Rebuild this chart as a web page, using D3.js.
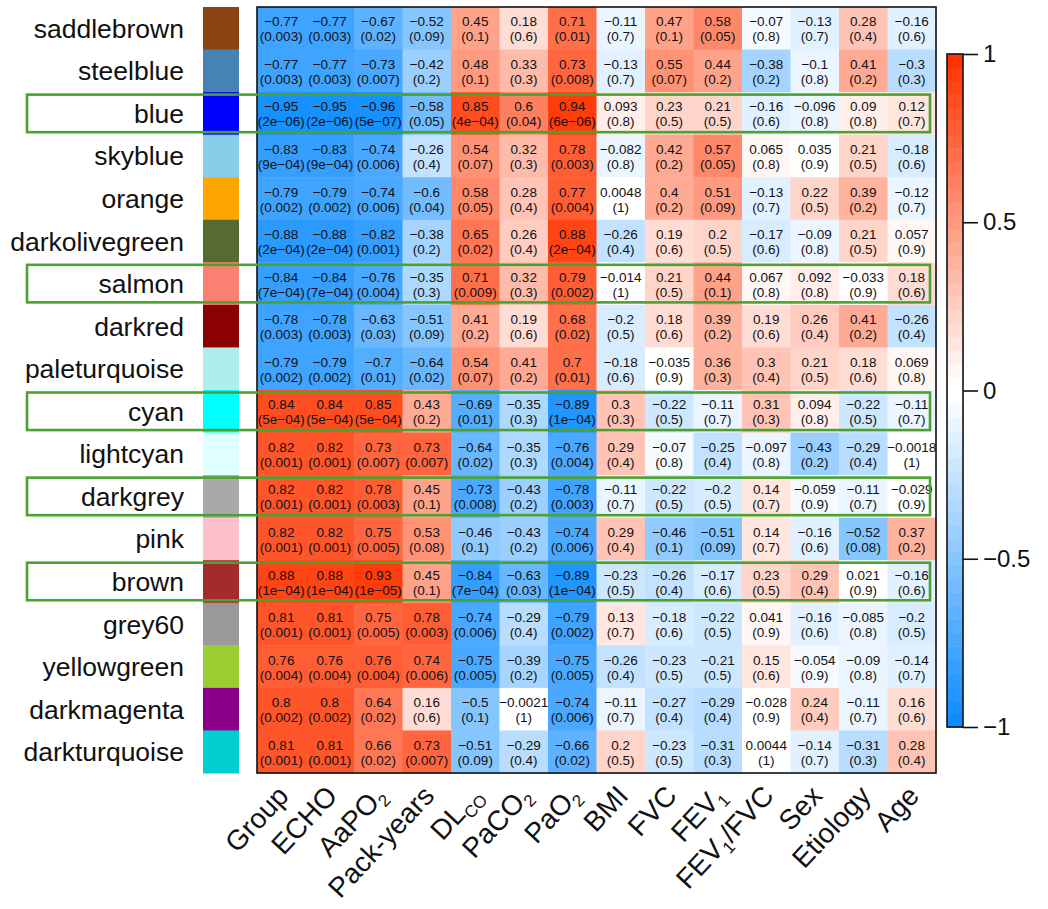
<!DOCTYPE html>
<html>
<head>
<meta charset="utf-8">
<script src="https://cdn.jsdelivr.net/npm/d3@7"></script>
<style>
  body { margin: 0; background: #fff; }
  text { font-family: "Liberation Sans", Arial, sans-serif; fill: #111; }
</style>
</head>
<body>
<div id="chart"></div>
<script>
// module / trait correlation heatmap

var modules = ["saddlebrown", "steelblue", "blue", "skyblue", "orange", "darkolivegreen",
  "salmon", "darkred", "paleturquoise", "cyan", "lightcyan", "darkgrey", "pink", "brown",
  "grey60", "yellowgreen", "darkmagenta", "darkturquoise"];

var swatchColors = ["#8B4513", "#4682B4", "#0000FF", "#87CEEB", "#FFA500", "#556B2F",
  "#FA8072", "#8B0000", "#AFEEEE", "#00FFFF", "#E0FFFF", "#A9A9A9", "#FFC0CB", "#A52A2A",
  "#999999", "#9ACD32", "#8B008B", "#00CED1"];

// label parts: [normal, subscript, normal, ...]
var traits = ["Group", "ECHO", "AaPO2", "Pack-years", "DLCO", "PaCO2", "PaO2", "BMI",
  "FVC", "FEV1", "FEV1/FVC", "Sex", "Etiology", "Age"];
var traitLabels = [["Group"], ["ECHO"], ["AaPO", "2"], ["Pack-years"], ["DL", "CO"],
  ["PaCO", "2"], ["PaO", "2"], ["BMI"], ["FVC"], ["FEV", "1"], ["FEV", "1", "/FVC"],
  ["Sex"], ["Etiology"], ["Age"]];

var highlighted = ["blue", "salmon", "cyan", "darkgrey", "brown"];

var corr = [
  [-0.77, -0.77, -0.67, -0.52, 0.45, 0.18, 0.71, -0.11, 0.47, 0.58, -0.07, -0.13, 0.28, -0.16],
  [-0.77, -0.77, -0.73, -0.42, 0.48, 0.33, 0.73, -0.13, 0.55, 0.44, -0.38, -0.1, 0.41, -0.3],
  [-0.95, -0.95, -0.96, -0.58, 0.85, 0.6, 0.94, 0.093, 0.23, 0.21, -0.16, -0.096, 0.09, 0.12],
  [-0.83, -0.83, -0.74, -0.26, 0.54, 0.32, 0.78, -0.082, 0.42, 0.57, 0.065, 0.035, 0.21, -0.18],
  [-0.79, -0.79, -0.74, -0.6, 0.58, 0.28, 0.77, 0.0048, 0.4, 0.51, -0.13, 0.22, 0.39, -0.12],
  [-0.88, -0.88, -0.82, -0.38, 0.65, 0.26, 0.88, -0.26, 0.19, 0.2, -0.17, -0.09, 0.21, 0.057],
  [-0.84, -0.84, -0.76, -0.35, 0.71, 0.32, 0.79, -0.014, 0.21, 0.44, 0.067, 0.092, -0.033, 0.18],
  [-0.78, -0.78, -0.63, -0.51, 0.41, 0.19, 0.68, -0.2, 0.18, 0.39, 0.19, 0.26, 0.41, -0.26],
  [-0.79, -0.79, -0.7, -0.64, 0.54, 0.41, 0.7, -0.18, -0.035, 0.36, 0.3, 0.21, 0.18, 0.069],
  [0.84, 0.84, 0.85, 0.43, -0.69, -0.35, -0.89, 0.3, -0.22, -0.11, 0.31, 0.094, -0.22, -0.11],
  [0.82, 0.82, 0.73, 0.73, -0.64, -0.35, -0.76, 0.29, -0.07, -0.25, -0.097, -0.43, -0.29, -0.0018],
  [0.82, 0.82, 0.78, 0.45, -0.73, -0.43, -0.78, -0.11, -0.22, -0.2, 0.14, -0.059, -0.11, -0.029],
  [0.82, 0.82, 0.75, 0.53, -0.46, -0.43, -0.74, 0.29, -0.46, -0.51, 0.14, -0.16, -0.52, 0.37],
  [0.88, 0.88, 0.93, 0.45, -0.84, -0.63, -0.89, -0.23, -0.26, -0.17, 0.23, 0.29, 0.021, -0.16],
  [0.81, 0.81, 0.75, 0.78, -0.74, -0.29, -0.79, 0.13, -0.18, -0.22, 0.041, -0.16, -0.085, -0.2],
  [0.76, 0.76, 0.76, 0.74, -0.75, -0.39, -0.75, -0.26, -0.23, -0.21, 0.15, -0.054, -0.09, -0.14],
  [0.8, 0.8, 0.64, 0.16, -0.5, -0.0021, -0.74, -0.11, -0.27, -0.29, -0.028, 0.24, -0.11, 0.16],
  [0.81, 0.81, 0.66, 0.73, -0.51, -0.29, -0.66, 0.2, -0.23, -0.31, 0.0044, -0.14, -0.31, 0.28]
];

var pvals = [
  ["0.003", "0.003", "0.02", "0.09", "0.1", "0.6", "0.01", "0.7", "0.1", "0.05", "0.8", "0.7", "0.4", "0.6"],
  ["0.003", "0.003", "0.007", "0.2", "0.1", "0.3", "0.008", "0.7", "0.07", "0.2", "0.2", "0.8", "0.2", "0.3"],
  ["2e-06", "2e-06", "5e-07", "0.05", "4e-04", "0.04", "6e-06", "0.8", "0.5", "0.5", "0.6", "0.8", "0.8", "0.7"],
  ["9e-04", "9e-04", "0.006", "0.4", "0.07", "0.3", "0.003", "0.8", "0.2", "0.05", "0.8", "0.9", "0.5", "0.6"],
  ["0.002", "0.002", "0.006", "0.04", "0.05", "0.4", "0.004", "1", "0.2", "0.09", "0.7", "0.5", "0.2", "0.7"],
  ["2e-04", "2e-04", "0.001", "0.2", "0.02", "0.4", "2e-04", "0.4", "0.6", "0.5", "0.6", "0.8", "0.5", "0.9"],
  ["7e-04", "7e-04", "0.004", "0.3", "0.009", "0.3", "0.002", "1", "0.5", "0.1", "0.8", "0.8", "0.9", "0.6"],
  ["0.003", "0.003", "0.03", "0.09", "0.2", "0.6", "0.02", "0.5", "0.6", "0.2", "0.6", "0.4", "0.2", "0.4"],
  ["0.002", "0.002", "0.01", "0.02", "0.07", "0.2", "0.01", "0.6", "0.9", "0.3", "0.4", "0.5", "0.6", "0.8"],
  ["5e-04", "5e-04", "5e-04", "0.2", "0.01", "0.3", "1e-04", "0.3", "0.5", "0.7", "0.3", "0.8", "0.5", "0.7"],
  ["0.001", "0.001", "0.007", "0.007", "0.02", "0.3", "0.004", "0.4", "0.8", "0.4", "0.8", "0.2", "0.4", "1"],
  ["0.001", "0.001", "0.003", "0.1", "0.008", "0.2", "0.003", "0.7", "0.5", "0.5", "0.7", "0.9", "0.7", "0.9"],
  ["0.001", "0.001", "0.005", "0.08", "0.1", "0.2", "0.006", "0.4", "0.1", "0.09", "0.7", "0.6", "0.08", "0.2"],
  ["1e-04", "1e-04", "1e-05", "0.1", "7e-04", "0.03", "1e-04", "0.5", "0.4", "0.6", "0.5", "0.4", "0.9", "0.6"],
  ["0.001", "0.001", "0.005", "0.003", "0.006", "0.4", "0.002", "0.7", "0.6", "0.5", "0.9", "0.6", "0.8", "0.5"],
  ["0.004", "0.004", "0.004", "0.006", "0.005", "0.2", "0.005", "0.4", "0.5", "0.5", "0.6", "0.9", "0.8", "0.7"],
  ["0.002", "0.002", "0.02", "0.6", "0.1", "1", "0.006", "0.7", "0.4", "0.4", "0.9", "0.4", "0.7", "0.6"],
  ["0.001", "0.001", "0.02", "0.007", "0.09", "0.4", "0.02", "0.5", "0.5", "0.3", "1", "0.7", "0.3", "0.4"]
];

var legendTicks = [1, 0.5, 0, -0.5, -1];

///////////////////////////////////////////////////////////////////////////
//////////////////////////// Set up svg ///////////////////////////////////
///////////////////////////////////////////////////////////////////////////

var W = 1048, H = 909;
var svg = d3.select("#chart").append("svg")
  .attr("width", W)
  .attr("height", H);

var x = d3.scaleBand().domain(traits).range([257, 936]);
var y = d3.scaleBand().domain(modules).range([7, 773]);

// blue-white-red palette with 50 steps
var nCol = 50, half = nCol / 2;
var palette = d3.range(nCol).map(function(i) {
  if (i < half) return d3.interpolateRgb("rgb(13,140,255)", "#ffffff")(i / (half - 1));
  return d3.interpolateRgb("#ffffff", "rgb(255,51,0)")((i - half) / (half - 1));
});
var color = d3.scaleQuantize().domain([-1, 1]).range(palette);

function fmt(s) { return String(s).replace(/-/g, "\u2212"); }

var cells = [];
modules.forEach(function(m, i) {
  traits.forEach(function(t, j) {
    cells.push({ m: m, t: t, r: corr[i][j], p: pvals[i][j] });
  });
});

///////////////////////////////////////////////////////////////////////////
//////////////////////////// Heatmap //////////////////////////////////////
///////////////////////////////////////////////////////////////////////////

var g = svg.append("g");

g.selectAll(".cell")
  .data(cells)
  .enter().append("rect")
  .attr("class", "cell")
  .attr("x", function(d) { return x(d.t); })
  .attr("y", function(d) { return y(d.m); })
  .attr("width", x.bandwidth() + 0.5)
  .attr("height", y.bandwidth() + 0.5)
  .style("fill", function(d) { return color(d.r); });

var labels = g.selectAll(".cellText")
  .data(cells)
  .enter().append("text")
  .attr("class", "cellText")
  .attr("text-anchor", "middle")
  .style("font-size", "13.5px");
labels.append("tspan")
  .attr("x", function(d) { return x(d.t) + x.bandwidth() / 2; })
  .attr("y", function(d) { return y(d.m) + y.bandwidth() / 2 - 2; })
  .text(function(d) { return fmt(d.r); });
labels.append("tspan")
  .attr("x", function(d) { return x(d.t) + x.bandwidth() / 2; })
  .attr("y", function(d) { return y(d.m) + y.bandwidth() / 2 + 13; })
  .text(function(d) { return "(" + fmt(d.p) + ")"; });

// border
g.append("rect")
  .attr("x", 257).attr("y", 7)
  .attr("width", 936 - 257).attr("height", 773 - 7)
  .style("fill", "none")
  .style("stroke", "#111")
  .style("stroke-width", 1.6);

// module colour swatches
g.selectAll(".swatch")
  .data(modules)
  .enter().append("rect")
  .attr("class", "swatch")
  .attr("x", 203)
  .attr("y", function(d) { return y(d); })
  .attr("width", 36)
  .attr("height", y.bandwidth() + 0.5)
  .style("fill", function(d, i) { return swatchColors[i]; });

// row labels
g.selectAll(".rowLabel")
  .data(modules)
  .enter().append("text")
  .attr("class", "rowLabel")
  .attr("x", 184)
  .attr("y", function(d) { return y(d) + y.bandwidth() / 2; })
  .attr("dy", "0.36em")
  .attr("text-anchor", "end")
  .style("font-size", "26.5px")
  .text(function(d) { return d; });

// column labels
var colLab = g.selectAll(".colLabel")
  .data(traits)
  .enter().append("text")
  .attr("class", "colLabel")
  .attr("text-anchor", "end")
  .style("font-size", "28px")
  .attr("transform", function(d) {
    return "translate(" + (x(d) + x.bandwidth() / 2 + 9) + ",797) rotate(-47)";
  });
colLab.each(function(d, i) {
  var el = d3.select(this);
  var parts = traitLabels[i];
  parts.forEach(function(p, k) {
    var ts = el.append("tspan").text(p);
    if (k % 2 === 1) {
      ts.attr("dy", 6).style("font-size", "17px");
    } else if (k > 0) {
      ts.attr("dy", -6);
    }
  });
});

// highlight boxes
g.selectAll(".hl")
  .data(highlighted)
  .enter().append("rect")
  .attr("class", "hl")
  .attr("x", 27)
  .attr("y", function(d) { return y(d) + 2.5; })
  .attr("width", 930 - 27)
  .attr("height", y.bandwidth() - 5)
  .style("fill", "none")
  .style("stroke", "#4ca22f")
  .style("stroke-width", 2.6);

///////////////////////////////////////////////////////////////////////////
//////////////////////////// Colour legend ////////////////////////////////
///////////////////////////////////////////////////////////////////////////

var ly = d3.scaleLinear().domain([-1, 1]).range([727, 54]);
var step = 2 / nCol;
var legend = svg.append("g");

legend.selectAll(".band")
  .data(palette)
  .enter().append("rect")
  .attr("class", "band")
  .attr("x", 947)
  .attr("y", function(d, i) { return ly(-1 + (i + 1) * step); })
  .attr("width", 16)
  .attr("height", ly(-1) - ly(-1 + step) + 0.5)
  .style("fill", function(d) { return d; });

legend.append("rect")
  .attr("x", 947).attr("y", 54)
  .attr("width", 16).attr("height", 727 - 54)
  .style("fill", "none")
  .style("stroke", "#111")
  .style("stroke-width", 1.6);

var axis = legend.append("g")
  .attr("transform", "translate(963,0)")
  .call(d3.axisRight(ly).tickValues(legendTicks).tickSize(15).tickPadding(5)
    .tickFormat(function(d) { return fmt(d); }));
axis.select(".domain").remove();
axis.selectAll(".tick line").style("stroke", "#111").style("stroke-width", 1.6);
axis.selectAll(".tick text")
  .style("font-size", "24px")
  .style("font-family", "'Liberation Sans', Arial, sans-serif")
  .style("fill", "#111");
</script>
</body>
</html>
